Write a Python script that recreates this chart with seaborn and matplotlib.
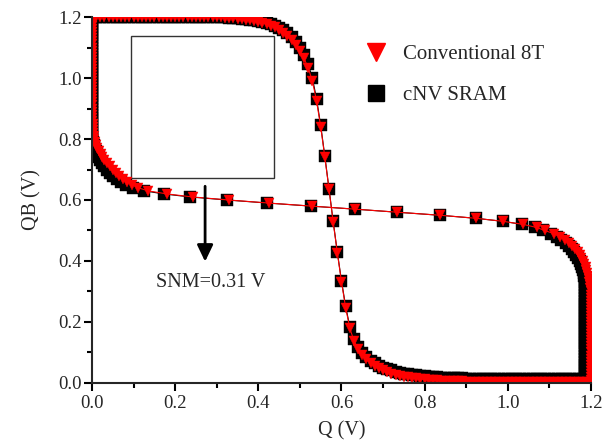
import numpy as np
import pandas as pd
import matplotlib
matplotlib.use("Agg")
import matplotlib.pyplot as plt
import matplotlib.patches as patches
from matplotlib.lines import Line2D
from matplotlib.ticker import MultipleLocator, FormatStrFormatter
import seaborn as sns

# sweep voltage (V), 0.01 V steps
v_sweep = np.round(np.arange(0, 1.2001, 0.01), 2)

# Conventional 8T: QB vs swept Q
qb_8t_a = [1.2, 1.2, 1.2, 1.2, 1.2, 1.2, 1.2, 1.2, 1.2, 1.2,
           1.2, 1.2, 1.2, 1.2, 1.2, 1.2, 1.2, 1.2, 1.2, 1.2,
           1.2, 1.2, 1.2, 1.2, 1.2, 1.2, 1.2, 1.2, 1.2, 1.2,
           1.2, 1.199, 1.198, 1.197, 1.196, 1.195, 1.193, 1.191, 1.189, 1.187,
           1.184, 1.181, 1.177, 1.172, 1.166, 1.158, 1.149, 1.138, 1.125, 1.109,
           1.089, 1.064, 1.033, 0.990, 0.925, 0.840, 0.740, 0.635, 0.528, 0.427,
           0.332, 0.247, 0.180, 0.138, 0.112, 0.093, 0.078, 0.066, 0.056, 0.048,
           0.041, 0.036, 0.031, 0.027, 0.024, 0.021, 0.019, 0.017, 0.015, 0.013,
           0.012, 0.011, 0.010, 0.009, 0.008, 0.007, 0.006, 0.006, 0.005, 0.005,
           0.004, 0.004, 0.004, 0.003, 0.003, 0.003, 0.003, 0.003, 0.002, 0.002,
           0.002, 0.002, 0.002, 0.002, 0.002, 0.002, 0.002, 0.002, 0.002, 0.002,
           0.002, 0.002, 0.002, 0.002, 0.002, 0.002, 0.002, 0.002, 0.002, 0.002,
           0.002]

# Conventional 8T: Q vs swept QB
q_8t_b = [1.199, 1.199, 1.199, 1.199, 1.199, 1.199, 1.199, 1.199, 1.199, 1.199,
          1.199, 1.199, 1.199, 1.199, 1.199, 1.199, 1.199, 1.199, 1.199, 1.199,
          1.199, 1.199, 1.199, 1.199, 1.199, 1.199, 1.199, 1.199, 1.199, 1.199,
          1.199, 1.198, 1.197, 1.196, 1.195, 1.193, 1.191, 1.189, 1.187, 1.184,
          1.181, 1.177, 1.173, 1.168, 1.162, 1.155, 1.147, 1.137, 1.125, 1.110,
          1.089, 1.069, 1.037, 0.989, 0.924, 0.837, 0.734, 0.633, 0.528, 0.425,
          0.329, 0.242, 0.180, 0.135, 0.111, 0.096, 0.084, 0.075, 0.066, 0.058,
          0.050, 0.043, 0.036, 0.030, 0.025, 0.021, 0.017, 0.013, 0.010, 0.007,
          0.005, 0.004, 0.003, 0.002, 0.002, 0.002, 0.001, 0.001, 0.001, 0.001,
          0.001, 0.001, 0.001, 0.001, 0.001, 0.001, 0.001, 0.001, 0.001, 0.001,
          0.001, 0.001, 0.001, 0.001, 0.001, 0.001, 0.001, 0.001, 0.001, 0.001,
          0.001, 0.001, 0.001, 0.001, 0.001, 0.001, 0.001, 0.001, 0.001, 0.001,
          0.001]

# cNV SRAM: QB vs swept Q
qb_nv_a = [1.2, 1.2, 1.2, 1.2, 1.2, 1.2, 1.2, 1.2, 1.2, 1.2,
           1.2, 1.2, 1.2, 1.2, 1.2, 1.2, 1.2, 1.2, 1.2, 1.2,
           1.2, 1.2, 1.2, 1.2, 1.2, 1.2, 1.2, 1.2, 1.2, 1.2,
           1.2, 1.2, 1.199, 1.198, 1.197, 1.196, 1.195, 1.193, 1.191, 1.189,
           1.187, 1.184, 1.181, 1.177, 1.171, 1.164, 1.156, 1.146, 1.134, 1.119,
           1.100, 1.076, 1.045, 1.000, 0.932, 0.845, 0.743, 0.637, 0.530, 0.429,
           0.335, 0.251, 0.185, 0.143, 0.117, 0.099, 0.085, 0.073, 0.064, 0.056,
           0.050, 0.045, 0.041, 0.037, 0.034, 0.031, 0.029, 0.027, 0.025, 0.023,
           0.022, 0.021, 0.020, 0.019, 0.018, 0.017, 0.016, 0.016, 0.015, 0.015,
           0.014, 0.014, 0.014, 0.013, 0.013, 0.013, 0.013, 0.012, 0.012, 0.012,
           0.012, 0.012, 0.012, 0.012, 0.012, 0.012, 0.012, 0.012, 0.012, 0.012,
           0.012, 0.012, 0.012, 0.012, 0.012, 0.012, 0.012, 0.012, 0.012, 0.012,
           0.012]

# cNV SRAM: Q vs swept QB
q_nv_b = [1.186, 1.186, 1.186, 1.186, 1.186, 1.186, 1.186, 1.186, 1.186, 1.186,
          1.186, 1.186, 1.186, 1.186, 1.186, 1.186, 1.186, 1.186, 1.186, 1.186,
          1.186, 1.186, 1.186, 1.186, 1.186, 1.186, 1.186, 1.186, 1.186, 1.186,
          1.186, 1.186, 1.186, 1.185, 1.185, 1.184, 1.183, 1.182, 1.179, 1.176,
          1.173, 1.169, 1.165, 1.160, 1.154, 1.147, 1.139, 1.129, 1.118, 1.104,
          1.085, 1.066, 1.035, 0.988, 0.923, 0.836, 0.733, 0.632, 0.526, 0.422,
          0.325, 0.236, 0.172, 0.126, 0.098, 0.081, 0.069, 0.059, 0.050, 0.043,
          0.036, 0.030, 0.025, 0.020, 0.016, 0.012, 0.009, 0.006, 0.004, 0.002,
          0.001, 0.001, 0.001, 0.001, 0.001, 0.001, 0.001, 0.001, 0.001, 0.001,
          0.001, 0.001, 0.001, 0.001, 0.001, 0.001, 0.001, 0.001, 0.001, 0.001,
          0.001, 0.001, 0.001, 0.001, 0.001, 0.001, 0.001, 0.001, 0.001, 0.001,
          0.001, 0.001, 0.001, 0.001, 0.001, 0.001, 0.001, 0.001, 0.001, 0.001,
          0.001]

labels = ["Conventional 8T", "cNV SRAM"]
snm_text = "SNM=0.31 V"


def butterfly(q_a, q_b):
    d1 = pd.DataFrame({"Q": v_sweep, "QB": q_a, "curve": "a"})
    d2 = pd.DataFrame({"Q": q_b, "QB": v_sweep, "curve": "b"})
    return pd.concat([d1, d2], ignore_index=True)


df_8t = butterfly(qb_8t_a, q_8t_b)
df_nv = butterfly(qb_nv_a, q_nv_b)

sns.set_theme(style="ticks")
plt.rcParams["font.family"] = ["Liberation Serif", "DejaVu Serif"]
plt.rcParams["axes.linewidth"] = 1.5

fig = plt.figure(figsize=(6.08, 4.44), dpi=100)
ax = fig.add_axes([0.1513, 0.1374, 0.8207, 0.8243])

sns.lineplot(data=df_nv, x="Q", y="QB", units="curve", estimator=None, sort=False,
             color="black", marker="s", markersize=8, markeredgecolor="black",
             markeredgewidth=0.3, linewidth=0.8, legend=False, ax=ax)
sns.lineplot(data=df_8t, x="Q", y="QB", units="curve", estimator=None, sort=False,
             color="red", marker="v", markersize=7.8, markeredgecolor="red",
             markeredgewidth=0.3, linewidth=0.8, legend=False, ax=ax)

ax.set_xlim(0, 1.2)
ax.set_ylim(0, 1.2)
ax.xaxis.set_major_locator(MultipleLocator(0.2))
ax.yaxis.set_major_locator(MultipleLocator(0.2))
ax.xaxis.set_minor_locator(MultipleLocator(0.1))
ax.yaxis.set_minor_locator(MultipleLocator(0.1))
ax.xaxis.set_major_formatter(FormatStrFormatter("%.1f"))
ax.yaxis.set_major_formatter(FormatStrFormatter("%.1f"))
ax.tick_params(which="major", length=6, width=1.5, labelsize=13.5, color="black")
ax.tick_params(which="minor", length=3.5, width=1.5, color="black")
ax.tick_params(axis="y", which="major", pad=1.5)
ax.tick_params(axis="x", which="major", pad=3)
sns.despine(ax=ax)

ax.set_xlabel("Q (V)", fontsize=14.5, labelpad=6)
ax.set_ylabel("QB (V)", fontsize=14.5, labelpad=12)

# SNM square
ax.add_patch(patches.Rectangle((0.094, 0.671), 0.344, 0.468, fill=False,
                               linewidth=1, edgecolor="#333333", zorder=1))
ax.annotate("", xy=(0.272, 0.398), xytext=(0.272, 0.645),
            arrowprops=dict(arrowstyle="-|>,head_length=0.5,head_width=0.24",
                            mutation_scale=20, color="black", lw=2,
                            shrinkA=0, shrinkB=0))
ax.text(0.155, 0.33, snm_text, fontsize=14.5, va="center", ha="left")

handles = [Line2D([], [], linestyle="none", marker="v", color="red", markersize=13),
           Line2D([], [], linestyle="none", marker="s", color="black", markersize=11.5)]
ax.legend(handles, labels, loc="upper left", bbox_to_anchor=(0.548, 0.925),
          frameon=False, fontsize=15, handlelength=1.0, handletextpad=0.8,
          labelspacing=1.05, borderpad=0, borderaxespad=0)

fig.savefig("out.png", dpi=100)
